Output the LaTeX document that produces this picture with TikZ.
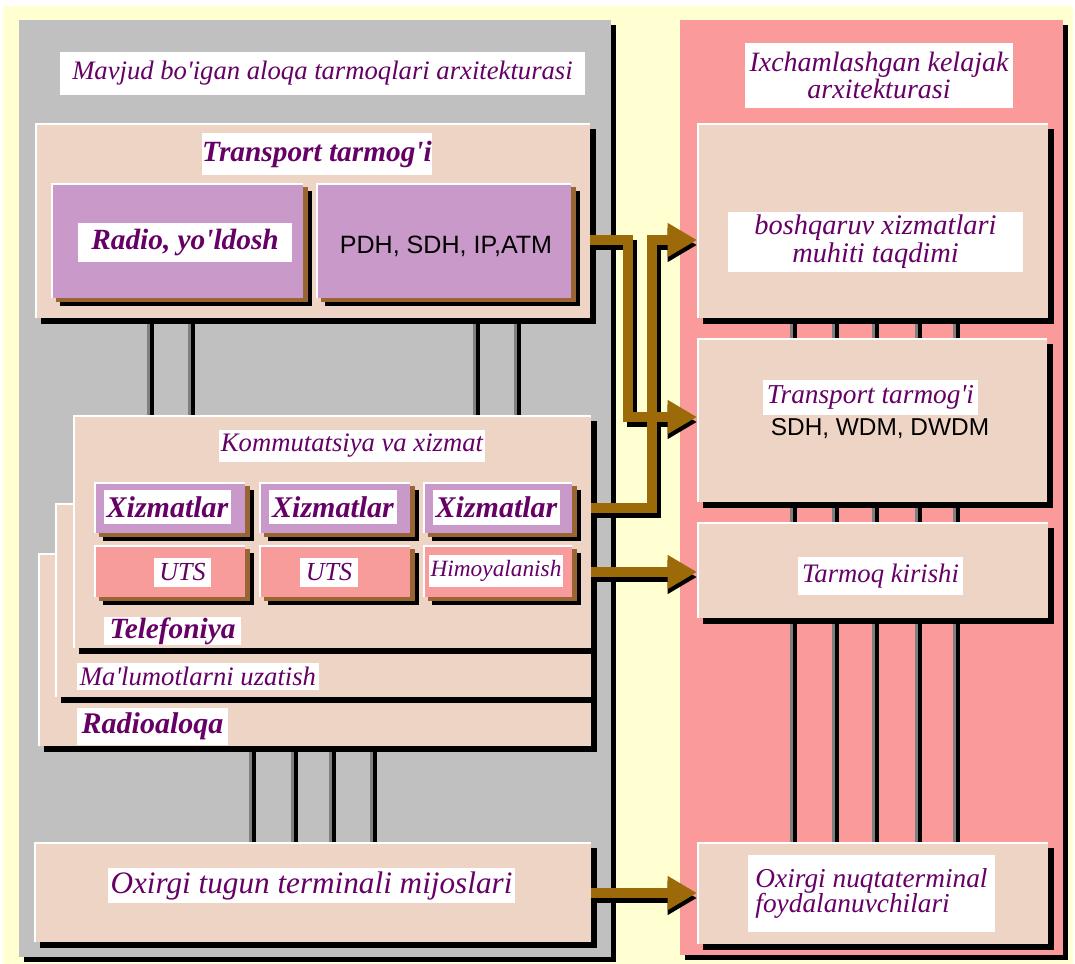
\documentclass[tikz,border=0pt]{standalone}
\usepackage{fontspec}
\setmainfont{Liberation Serif}[Ligatures=TeXOff]
\newfontfamily\sansf{Liberation Sans}
\usetikzlibrary{fit,shadows,arrows.meta}
\definecolor{bgy}{HTML}{FFFFD2}
\definecolor{pgray}{HTML}{C0C0C0}
\definecolor{ppink}{HTML}{FA9A9A}
\definecolor{peach}{HTML}{EED4C4}
\definecolor{lav}{HTML}{C999C9}
\definecolor{salm}{HTML}{F79C9A}
\definecolor{txtp}{HTML}{660066}
\definecolor{abrown}{HTML}{9C6A08}
\definecolor{shbr}{HTML}{996633}
\definecolor{cgray}{HTML}{808080}
\pgfdeclarelayer{panel}
\pgfdeclarelayer{back}
\pgfsetlayers{panel,back,main}
\tikzset{
  box/.style={inner sep=0pt, outer sep=0pt, draw=none},
  hl/.style={path picture={\draw[white, line width=3pt] (path picture bounding box.south west) |- (path picture bounding box.north east);}},
  shfive/.style={drop shadow={shadow xshift=3.75pt, shadow yshift=-3.75pt, fill=black, opacity=1}},
  shsix/.style={drop shadow={shadow xshift=4.5pt, shadow yshift=-4.5pt, fill=black, opacity=1}},
  shtwo/.style={drop shadow={shadow xshift=6.75pt, shadow yshift=-6pt, fill=black, opacity=1},
                drop shadow={shadow xshift=3.5pt, shadow yshift=-3pt, fill=shbr, opacity=1}},
  pbox/.style={box, fill=peach, shsix, hl},
  lbox/.style={box, fill=lav, shtwo, hl},
  sbox/.style={box, fill=salm, shtwo, hl},
  wl/.style={box, fill=white, text=txtp, align=center},
  wh/.style 2 args={minimum width=#1*0.75pt, minimum height=#2*0.75pt},
  fi/.style={font=\itshape\fontsize{#1pt}{#1pt}\selectfont},
  fb/.style={font=\bfseries\itshape\fontsize{#1pt}{#1pt}\selectfont},
  fs/.style={font=\sansf\fontsize{#1pt}{#1pt}\selectfont, text=black, inner sep=0pt},
  connb/.style={draw=black, line width=3.4pt},
  conng/.style={draw=cgray, line width=2pt},
  arsh/.style={draw=black, line width=7.5pt, -{Triangle[length=22pt,width=24pt]}, shift={(4,5)}},
  arbr/.style={draw=abrown, line width=7.5pt, -{Triangle[length=22pt,width=24pt]}},
}
\begin{document}
\begin{tikzpicture}[x=0.75pt,y=-0.75pt]
\useasboundingbox (0,0) rectangle (1075,964);
\begin{pgfonlayer}{panel}
\fill[white] (0,0) rectangle (1075,964);
\fill[bgy] (3,6) rectangle (1073,964);
\node[box, fill=pgray, shfive, fit={(19,20) (611,957)}] (gpanel) {};
\node[box, fill=ppink, shfive, fit={(680,20) (1063,955)}] (ppanel) {};
\end{pgfonlayer}

% titles
\node[wl, fi=20, wh={525}{43}] (tleft) at (322.5,73.5) {Mavjud bo'igan aloqa tarmoqlari arxitekturasi};
\node[wl, font=\itshape\fontsize{21pt}{20.5pt}\selectfont, wh={268}{65}] (tright) at (879,75.5) {Ixchamlashgan kelajak\\arxitekturasi};

% transport (left)
\node[pbox, fit={(35,123) (590,318)}] (transport) {};
\node[wl, fb=22, wh={230}{42}] (trlab) at (317,154) {Transport tarmog'i};
\node[lbox, fit={(51,183) (303,298)}] (radio) {};
\node[wl, fb=22, wh={214}{39}] (radlab) at (185,242.5) {Radio, yo'ldosh};
\node[lbox, fit={(316,183) (571,298)}] (pdh) {};
\node[fs=18.8] (pdhlab) at (446,246) {PDH, SDH, IP,ATM};

% stacked layers
\node[pbox, fit={(38,553) (591,746)}] (rad) {};
\node[wl, fb=22.5, wh={151}{37}] (radaloqlab) at (152.5,726.5) {Radioaloqa};
\node[pbox, fit={(55,503) (591,697)}] (mal) {};
\node[wl, fi=20, wh={242}{27}] (mallab) at (198,676.5) {Ma'lumotlarni uzatish};
\node[pbox, fit={(73,415) (591,648)}] (komm) {};
\node[wl, fi=20, wh={266}{32}] (kommlab) at (352,446) {Kommutatsiya va xizmat};

\node[lbox, fit={(94,482) (245,533)}] (xiz1) {};
\node[lbox, fit={(259,482) (410,533)}] (xiz2) {};
\node[lbox, fit={(423,482) (572,533)}] (xiz3) {};
\node[wl, fb=22.5, wh={127}{34}] (xl1) at (167.5,507) {Xizmatlar};
\node[wl, fb=22.5, wh={128}{34}] (xl2) at (333,507) {Xizmatlar};
\node[wl, fb=22.5, wh={127}{35}] (xl3) at (496.5,507.5) {Xizmatlar};
\node[sbox, fit={(94,545) (245,597)}] (uts1) {};
\node[sbox, fit={(259,545) (410,597)}] (uts2) {};
\node[sbox, fit={(423,545) (572,597)}] (him) {};
\node[wl, fi=19.5, wh={57}{29}] (ul1) at (182.5,572.5) {UTS};
\node[wl, fi=19.5, wh={58}{29}] (ul2) at (329,572.5) {UTS};
\node[wl, fi=17.5, wh={134}{32}] (hl3) at (496,571) {Himoyalanish};
\node[wl, fb=22, wh={137}{28}] (tellab) at (172.5,631) {Telefoniya};

% bottom left
\node[pbox, fit={(34,842) (591,942)}] (oxl) {};
\node[wl, fi=23.4, wh={407}{35}] (oxllab) at (311.5,885.5) {Oxirgi tugun terminali mijoslari};

% right column
\node[pbox, fit={(697,123) (1048,318)}] (boss) {};
\node[wl, font=\itshape\fontsize{21.3pt}{21pt}\selectfont, wh={295}{60}] (bosslab) at (875.5,242) {boshqaruv xizmatlari\\muhiti taqdimi};
\node[pbox, fit={(697,338) (1047,502)}] (rtrans) {};
\node[wl, fi=20.5, wh={215}{35}] (rtrlab) at (870.5,397.5) {Transport tarmog'i};
\node[fs=18.3] (sdhlab) at (880,429) {SDH, WDM, DWDM};
\node[pbox, fit={(697,522) (1048,618)}] (tkir) {};
\node[wl, fi=20, wh={165}{38}] (tkirlab) at (880.5,576) {Tarmoq kirishi};
\node[pbox, fit={(697,842) (1048,944)}] (oxr) {};
\node[wl, align=left, font=\itshape\fontsize{20.5pt}{19pt}\selectfont, wh={247}{77}] (oxrlab) at (871.5,893.5) {Oxirgi nuqtaterminal\\foydalanuvchilari};

% connectors
\begin{pgfonlayer}{back}
\foreach \x in {152,193,478,519}{
  \draw[conng] (\x-3.5,0 |- transport.south) -- (\x-3.5,0 |- komm.north);
  \draw[connb] (\x,0 |- transport.south) -- (\x,0 |- komm.north);
}
\foreach \x in {254,296,334,375}{
  \draw[conng] (\x-3.5,0 |- rad.south) -- (\x-3.5,0 |- oxl.north);
  \draw[connb] (\x,0 |- rad.south) -- (\x,0 |- oxl.north);
}
\foreach \x in {795,837,877,920,958}{
  \draw[conng] (\x-3.5,0 |- boss.south) -- (\x-3.5,0 |- rtrans.north);
  \draw[connb] (\x,0 |- boss.south) -- (\x,0 |- rtrans.north);
  \draw[conng] (\x-3.5,0 |- rtrans.south) -- (\x-3.5,0 |- tkir.north);
  \draw[connb] (\x,0 |- rtrans.south) -- (\x,0 |- tkir.north);
  \draw[conng] (\x-3.5,0 |- tkir.south) -- (\x-3.5,0 |- oxr.north);
  \draw[connb] (\x,0 |- tkir.south) -- (\x,0 |- oxr.north);
}
\end{pgfonlayer}

% arrows
\foreach \s in {arsh,arbr}{
  \draw[\s] (transport.east |- 0,240) -- (628,240) -- (628,417) -- (rtrans.west |- 0,417);
  \draw[\s] (komm.east |- 0,508) -- (652,508) -- (652,240) -- (boss.west |- 0,240);
  \draw[\s] (komm.east |- 0,572) -- (tkir.west |- 0,572);
  \draw[\s] (oxl.east |- 0,893) -- (oxr.west |- 0,893);
}
\end{tikzpicture}
\end{document}
